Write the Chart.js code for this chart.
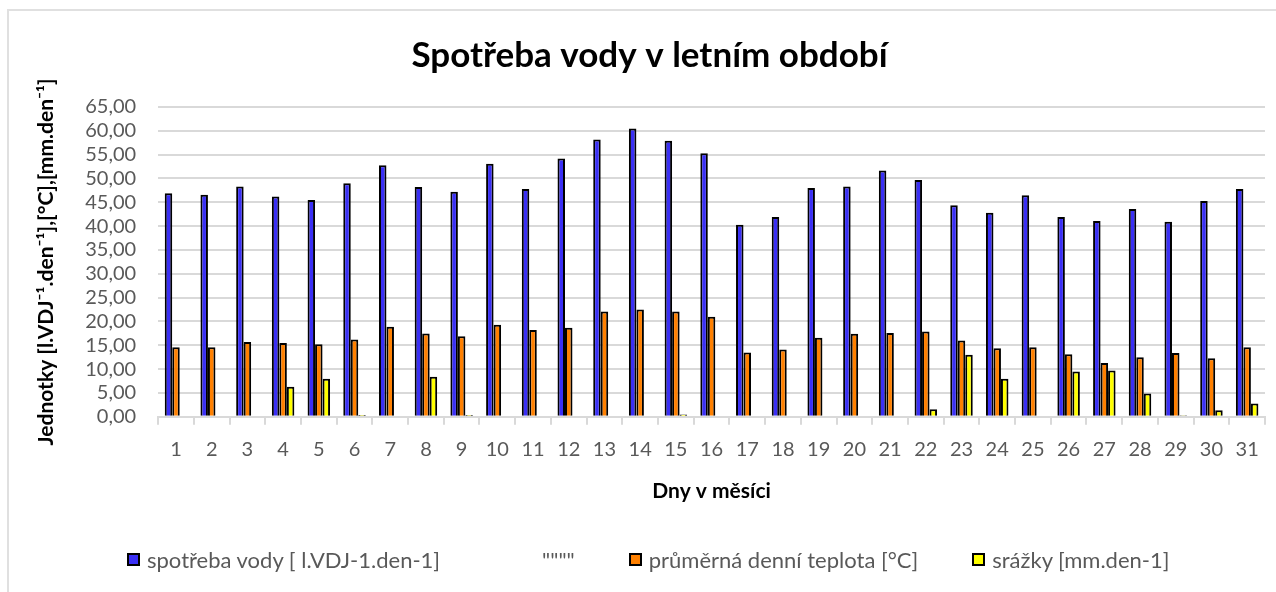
<!DOCTYPE html>
<html lang="cs">
<head>
<meta charset="utf-8">
<title>Spotřeba vody v letním období</title>
<script src="https://cdn.jsdelivr.net/npm/chart.js@4.4.1/dist/chart.umd.min.js"></script>
<style>
    html, body { margin: 0; padding: 0; background: #fff; overflow: hidden; }
    #frame {
        position: absolute; left: 7px; top: 9px;
        width: 1300px; height: 620px;
        border: 2px solid #e0e0e0;
    }
    #wrap { position: absolute; left: 0; top: 0; width: 1276px; height: 592px; }
    #legend {
        position: absolute; left: 127px; top: 546px;
        display: flex; align-items: center; gap: 54px;
        font-family: Lato, "Open Sans", sans-serif; font-size: 22px; color: #595959;
        white-space: nowrap;
    }
    .legend-item { display: flex; align-items: center; }
    .legend-item:nth-child(2) { margin-left: 28px; }
    .legend-box {
        width: 9px; height: 9px; margin-right: 7px;
        border: 2px solid #000; box-sizing: content-box;
    }
</style>
</head>
<body>
<div id="frame"></div>
<div id="wrap"><canvas id="waterChart"></canvas></div>
<div id="legend"></div>
<script>
// Days of the month
const days = ['1','2','3','4','5','6','7','8','9','10','11','12','13','14','15','16',
    '17','18','19','20','21','22','23','24','25','26','27','28','29','30','31'];

// Water consumption [l.VDJ-1.den-1]
const waterUse = [46.9, 46.6, 48.3, 46.2, 45.5, 49.0, 52.8, 48.2, 47.2, 53.1, 47.8,
    54.2, 58.2, 60.5, 57.9, 55.3, 40.3, 41.9, 48.0, 48.3, 51.7,
    49.7, 44.4, 42.8, 46.5, 41.9, 41.1, 43.6, 40.9, 45.3, 47.8];

// Average daily temperature [°C]
const avgTemp = [14.6, 14.6, 15.7, 15.5, 15.2, 16.2, 18.9, 17.5, 16.9, 19.3, 18.2,
    18.7, 22.1, 22.5, 22.1, 21.0, 13.5, 14.1, 16.6, 17.4, 17.6,
    17.9, 16.0, 14.4, 14.6, 13.1, 11.3, 12.5, 13.4, 12.3, 14.6];

// Precipitation [mm.den-1]
const rainfall = [0, 0, 0, 6.3, 8.0, 0.4, 0, 8.4, 0.4, 0, 0,
    0, 0, 0, 0.5, 0, 0, 0, 0, 0, 0,
    1.6, 13.0, 8.0, 0, 9.5, 9.7, 4.9, 0.3, 1.4, 2.8];

// Empty series that only shows up in the legend
const emptySeries = [];

const yTicks = { min: 0, max: 65, step: 5 };

const FONT = 'Lato, "Open Sans", sans-serif';
const GREY = '#595959';

document.addEventListener('DOMContentLoaded', function() {
    initializeChart();
    buildLegend();
});

function formatTick(value) {
    return value.toFixed(2).replace('.', ',');
}

function initializeChart() {
    const ctx = document.getElementById('waterChart').getContext('2d');

    window.waterChart = new Chart(ctx, {
        type: 'bar',
        data: {
            labels: days,
            datasets: [
                {
                    label: 'spotřeba vody [ l.VDJ-1.den-1]',
                    data: waterUse,
                    backgroundColor: '#3a2ff5',
                    borderColor: '#000',
                    borderWidth: 2
                },
                {
                    label: '""""',
                    data: emptySeries,
                    backgroundColor: 'rgba(0,0,0,0)',
                    borderColor: 'rgba(0,0,0,0)',
                    borderWidth: 0,
                    grouped: false
                },
                {
                    label: 'průměrná denní teplota [°C]',
                    data: avgTemp,
                    backgroundColor: '#ff8000',
                    borderColor: '#000',
                    borderWidth: 2
                },
                {
                    label: 'srážky [mm.den-1]',
                    data: rainfall,
                    backgroundColor: '#ffff00',
                    borderColor: '#000',
                    borderWidth: 2
                }
            ]
        },
        options: {
            responsive: true,
            maintainAspectRatio: false,
            animation: false,
            datasets: {
                bar: {
                    categoryPercentage: 0.63,
                    barPercentage: 1.0,
                    borderSkipped: 'start'
                }
            },
            layout: {
                padding: { left: 34, right: 11, top: 22, bottom: 78 }
            },
            plugins: {
                title: {
                    display: true,
                    text: 'Spotřeba vody v letním období',
                    color: '#000',
                    font: { family: FONT, size: 35, weight: 'bold' },
                    padding: { top: 13, bottom: 30 }
                },
                legend: { display: false },
                tooltip: { enabled: false }
            },
            scales: {
                x: {
                    grid: {
                        display: true,
                        offset: true,
                        drawOnChartArea: false,
                        color: '#d9d9d9',
                        lineWidth: 2,
                        tickLength: 8
                    },
                    border: { color: '#d9d9d9', width: 2 },
                    ticks: {
                        color: GREY,
                        font: { family: FONT, size: 20 },
                        padding: 13,
                        maxRotation: 0,
                        autoSkip: false
                    },
                    title: {
                        display: true,
                        text: 'Dny v měsíci',
                        color: '#000',
                        font: { family: FONT, size: 21, weight: 'bold' },
                        padding: { top: 4, bottom: 10 }
                    }
                },
                y: {
                    min: yTicks.min,
                    max: yTicks.max,
                    grid: {
                        color: '#d9d9d9',
                        lineWidth: 2,
                        drawTicks: false
                    },
                    border: { display: false },
                    ticks: {
                        stepSize: yTicks.step,
                        autoSkip: false,
                        color: GREY,
                        font: { family: FONT, size: 20 },
                        padding: 22,
                        callback: formatTick
                    },
                    title: {
                        display: true,
                        text: 'Jednotky [l.VDJ⁻¹.den⁻¹],[°C],[mm.den⁻¹]',
                        color: '#000',
                        font: { family: FONT, size: 21, weight: 'bold' },
                        padding: { top: 0, bottom: 4 }
                    }
                }
            }
        }
    });
}

// Legend built from the chart's datasets, laid out as one wide row
function buildLegend() {
    const container = document.getElementById('legend');
    container.innerHTML = window.waterChart.data.datasets.map(ds => `
        <span class="legend-item">
            <span class="legend-box" style="background:${ds.backgroundColor};border-color:${ds.borderWidth ? ds.borderColor : 'transparent'}"></span>
            <span>${ds.label}</span>
        </span>
    `).join('');
}
</script>
</body>
</html>
